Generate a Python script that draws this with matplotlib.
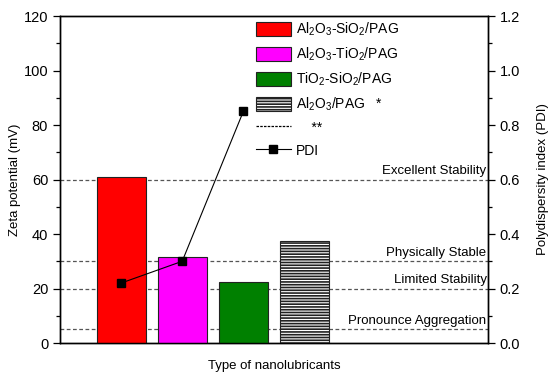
import numpy as np
import matplotlib
matplotlib.use("Agg")
import matplotlib.pyplot as plt
from matplotlib.patches import Patch
from matplotlib.lines import Line2D
from matplotlib.ticker import MultipleLocator, FormatStrFormatter

plt.rcParams['font.family'] = ['Liberation Sans', 'DejaVu Sans']
plt.rcParams['font.size'] = 9.5
plt.rcParams['mathtext.default'] = 'regular'
plt.rcParams['hatch.linewidth'] = 1.2

# data
samples = [r'Al$_2$O$_3$-SiO$_2$/PAG', r'Al$_2$O$_3$-TiO$_2$/PAG',
           r'TiO$_2$-SiO$_2$/PAG', r'Al$_2$O$_3$/PAG   *']
zeta = [61, 31.5, 22.5, 37.5]
pdi = [0.22, 0.30, 0.85]
bar_colors = ['#ff0000', '#ff00ff', '#008000', 'white']
hatches = [None, None, None, '------']

levels = [60, 30, 20, 5]
level_names = ['Excellent Stability', 'Physically Stable', 'Limited Stability',
               'Pronounce Aggregation']

fig = plt.figure(figsize=(5.5, 3.82), dpi=100)
ax = fig.add_axes([0.109, 0.102, 0.778, 0.856])

x = np.arange(1, len(zeta) + 1)
for i in range(len(zeta)):
    ax.bar(x[i], zeta[i], width=0.8, color=bar_colors[i], edgecolor='#222222',
           linewidth=0.8, hatch=hatches[i], zorder=3)

for lv, name in zip(levels, level_names):
    ax.axhline(lv, color='#555555', linestyle=(0, (3, 2)), linewidth=0.9, zorder=1)
    ax.text(0.997, lv + 0.8, name, transform=ax.get_yaxis_transform(),
            ha='right', va='bottom', fontsize=9.5)

ax.set_xlim(0, 7)
ax.set_ylim(0, 120)
ax.yaxis.set_major_locator(MultipleLocator(20))
ax.yaxis.set_minor_locator(MultipleLocator(10))
ax.set_xticks([])
ax.tick_params(axis='y', which='major', direction='out', length=5, width=0.9,
               labelsize=10.5)
ax.tick_params(axis='y', which='minor', direction='out', length=3, width=0.9)
ax.set_ylabel('Zeta potential (mV)', labelpad=2)
ax.set_xlabel('Type of nanolubricants', labelpad=12)

ax2 = ax.twinx()
ax2.plot(x[:len(pdi)], pdi, color='black', linewidth=0.8, marker='s',
         markersize=5.5, zorder=5)
ax2.set_ylim(0, 1.2)
ax2.yaxis.set_major_locator(MultipleLocator(0.2))
ax2.yaxis.set_minor_locator(MultipleLocator(0.1))
ax2.yaxis.set_major_formatter(FormatStrFormatter('%.1f'))
ax2.tick_params(axis='y', which='major', direction='out', length=5, width=0.9,
                labelsize=10.5)
ax2.tick_params(axis='y', which='minor', direction='out', length=3, width=0.9)
ax2.set_ylabel('Polydispersity index (PDI)', labelpad=12)

for a in (ax, ax2):
    for s in a.spines.values():
        s.set_linewidth(1.0)

handles = []
for i in range(len(zeta)):
    handles.append(Patch(facecolor=bar_colors[i], edgecolor='#222222',
                         linewidth=0.8, hatch=hatches[i]))
handles.append(Line2D([], [], color='black', linestyle=(0, (2, 1)), linewidth=0.9))
handles.append(Line2D([], [], color='black', linewidth=0.8, marker='s', markersize=5.5))
labels = samples + ['    **', 'PDI']

leg = ax2.legend(handles, labels, loc='upper left', bbox_to_anchor=(0.44, 1.01),
                 frameon=False, handlelength=2.5, handleheight=1.2,
                 labelspacing=0.55, handletextpad=0.4, borderaxespad=0.15,
                 fontsize=10)

fig.savefig('out.png', dpi=100)
